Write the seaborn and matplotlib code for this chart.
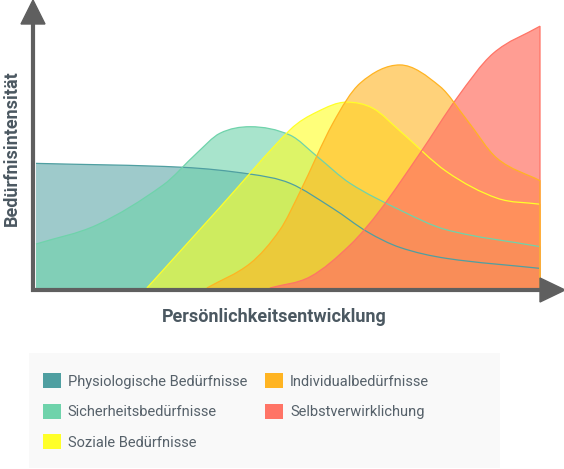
import matplotlib
matplotlib.use('Agg')
import matplotlib.pyplot as plt
from matplotlib.patches import Polygon, Rectangle, Patch, PathPatch
from matplotlib.lines import Line2D
from matplotlib.path import Path
from matplotlib.colors import to_rgba
import seaborn as sns

names = ['Physiologische Bedürfnisse', 'Sicherheitsbedürfnisse', 'Soziale Bedürfnisse',
         'Individualbedürfnisse', 'Selbstverwirklichung']
colors = ['#4f9fa1', '#6fd3ab', '#ffff29', '#ffb422', '#ff7466']
alphas = [0.55, 0.6, 0.62, 0.6, 0.7]
# Reihenfolge der Umrisslinien (Orange liegt oben)
line_order = [0, 1, 2, 4, 3]

phys_x = [0, 29.2, 42.5, 50.4, 58.9, 65.7, 72.2, 81.5, 100]
phys_y = [47.6, 46.1, 43.5, 40.0, 30.4, 21.5, 15.5, 11.3, 7.5]

sich_x = [0, 12.1, 25.2, 31.9, 36.5, 42.5, 50.4, 55.8, 62.3, 72.2, 81.5, 100]
sich_y = [16.8, 24.1, 39.3, 51.5, 59.1, 61.6, 58.4, 50.2, 40.0, 29.8, 22.2, 15.8]

soz_x = [22.0, 36.2, 50.4, 55.8, 61.6, 66.9, 72.2, 81.5, 91.5, 100]
soz_y = [0, 30.2, 60.4, 67.3, 71.0, 68.6, 60.0, 44.4, 34.3, 32.0]

ind_x = [33.9, 42.5, 48.4, 52.4, 58.9, 64.3, 72.2, 80.2, 85.5, 91.5, 100]
ind_y = [0, 9.4, 22.2, 36.8, 62.9, 78.2, 85.2, 76.9, 64.2, 49.5, 41.0]

selbst_x = [46.4, 54.4, 62.3, 68.3, 76.2, 83.5, 90.7, 100]
selbst_y = [0, 4.3, 16.4, 29.8, 51.5, 72.5, 89.6, 100]

xs_all = [phys_x, sich_x, soz_x, ind_x, selbst_x]
ys_all = [phys_y, sich_y, soz_y, ind_y, selbst_y]


def kurve(xs, ys):
    # glatte kubische Bezier-Kurve durch die Punkte (monoton begrenzt)
    n = len(xs)
    d = [(ys[k + 1] - ys[k]) / (xs[k + 1] - xs[k]) for k in range(n - 1)]
    m = [d[0]] + [0.0] * (n - 2) + [d[-1]]
    for k in range(1, n - 1):
        if d[k - 1] * d[k] > 0:
            t = (ys[k + 1] - ys[k - 1]) / (xs[k + 1] - xs[k - 1])
            lim = 3 * min(abs(d[k - 1]), abs(d[k]))
            m[k] = max(-lim, min(lim, t))
    verts = [(xs[0], ys[0])]
    codes = [Path.MOVETO]
    for k in range(n - 1):
        h = xs[k + 1] - xs[k]
        verts += [(xs[k] + h / 3, ys[k] + m[k] * h / 3),
                  (xs[k + 1] - h / 3, ys[k + 1] - m[k + 1] * h / 3),
                  (xs[k + 1], ys[k + 1])]
        codes += [Path.CURVE4] * 3
    return verts, codes


sns.set_theme(style='white')
plt.rcParams['font.family'] = ['Roboto', 'DejaVu Sans']

W, H = 564, 469
fig = plt.figure(figsize=(W / 100, H / 100), dpi=100)


def fx(px):
    return px / W


def fy(py):
    return 1 - py / H


ax = fig.add_axes([fx(36), fy(288), fx(540) - fx(36), fy(0) - fy(288)])

for i in range(len(names)):
    verts, codes = kurve(xs_all[i], ys_all[i])
    flaeche = Path(verts + [(xs_all[i][-1], 0), (xs_all[i][0], 0), verts[0]],
                   codes + [Path.LINETO, Path.LINETO, Path.CLOSEPOLY])
    ax.add_patch(PathPatch(flaeche, facecolor=to_rgba(colors[i], alphas[i]),
                           edgecolor='none', zorder=i + 1))
    rand = Path(verts + [(xs_all[i][-1], 0)], codes + [Path.LINETO])
    ax.add_patch(PathPatch(rand, facecolor='none', edgecolor=colors[i],
                           linewidth=0.9, zorder=10 + line_order.index(i),
                           clip_on=False))

ax.set_xlim(0, 100)
ax.set_ylim(0, 110)
ax.axis('off')

# Achsen mit Pfeilen
grau = '#5f5f5f'
fig.add_artist(Line2D([fx(33), fx(33)], [fy(20), fy(292)], color=grau, lw=3.0,
                      transform=fig.transFigure, solid_capstyle='butt'))
fig.add_artist(Polygon([(fx(21), fy(24)), (fx(45), fy(24)), (fx(33), fy(0))],
                       closed=True, color=grau, transform=fig.transFigure))
fig.add_artist(Line2D([fx(31), fx(542)], [fy(290), fy(290)], color=grau, lw=3.0,
                      transform=fig.transFigure, solid_capstyle='butt'))
fig.add_artist(Polygon([(fx(540), fy(278)), (fx(540), fy(302)), (fx(565), fy(290))],
                       closed=True, color=grau, transform=fig.transFigure))

text_col = '#4b5861'
fig.text(fx(12), fy(148), 'Bedürfnisintensität', rotation=90, ha='center', va='center',
         fontsize=13, fontweight='bold', color=text_col)
fig.text(fx(274), fy(317), 'Persönlichkeitsentwicklung', ha='center', va='center',
         fontsize=13, fontweight='bold', color=text_col)

# Legende
fig.add_artist(Rectangle((fx(29), fy(468)), fx(500) - fx(29), fy(353) - fy(468),
                         transform=fig.transFigure, facecolor='#f9f9f9',
                         edgecolor='none', zorder=0))
handles = [Patch(facecolor=c, edgecolor='none') for c in colors]
fig.legend(handles, names, ncol=2, loc='upper left', bbox_to_anchor=(fx(43), fy(373)),
           frameon=False, borderpad=0, borderaxespad=0, handlelength=1.23,
           handleheight=1.23, handletextpad=0.48, columnspacing=1.23,
           labelspacing=1.03, fontsize=10.5, labelcolor='#56616a')

fig.savefig('out.png', dpi=100)
